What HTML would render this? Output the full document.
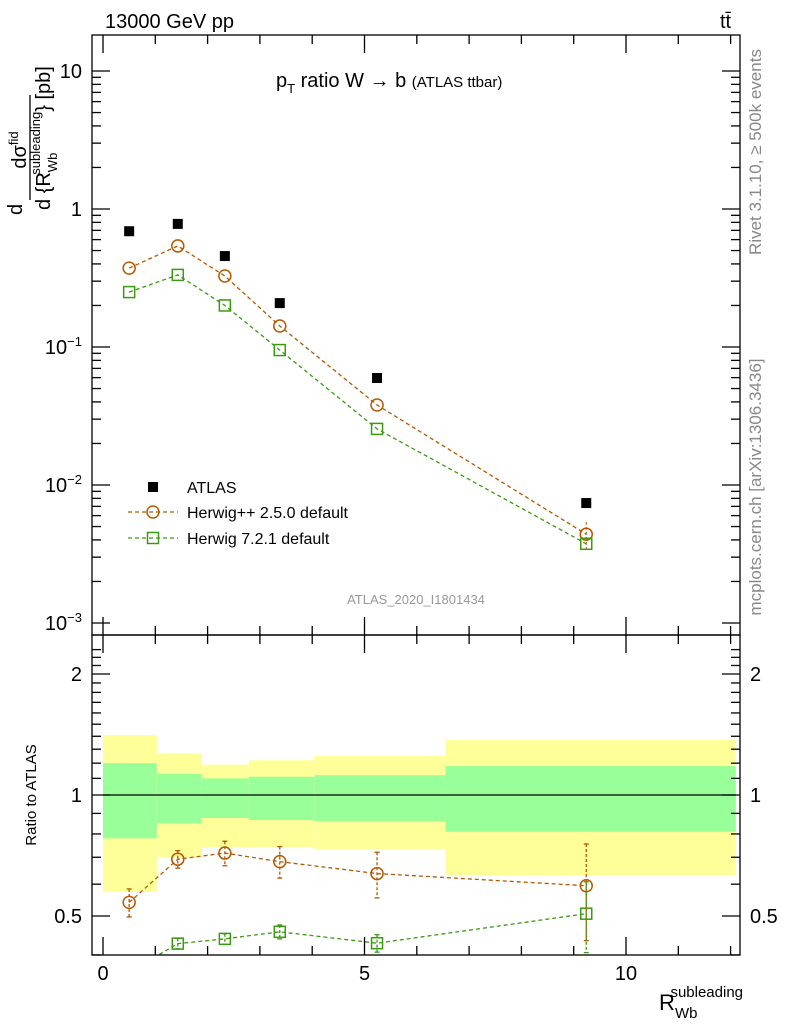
<!DOCTYPE html>
<html><head><meta charset="utf-8"><style>
body{margin:0;background:#fff;font-family:"Liberation Sans",sans-serif}
svg text{font-family:"Liberation Sans","DejaVu Sans",sans-serif}
</style></head><body>
<svg id="c" width="786" height="1024" xmlns="http://www.w3.org/2000/svg">
<defs>
<clipPath id="rc"><rect x="92" y="636" width="648" height="319"/></clipPath>
</defs>
<g id="bands" clip-path="url(#rc)"></g>
<g id="marks"></g>
<g id="axes"></g>
<rect x="92" y="35" width="648" height="600" fill="none" stroke="#000" stroke-width="1.3"/>
<rect x="92" y="635" width="648" height="320" fill="none" stroke="#000" stroke-width="1.3"/>
<text x="105" y="28" font-size="20">13000 GeV pp</text>
<text x="720" y="28" font-size="20">tt̄</text>
<text x="276" y="87" font-size="20">p<tspan font-size="13" dy="6">T</tspan><tspan dy="-6"> ratio W</tspan><tspan> → b </tspan><tspan font-size="15">(ATLAS ttbar)</tspan></text>
<text x="416" y="604" font-size="13" fill="#999" text-anchor="middle">ATLAS_2020_I1801434</text>
<text transform="translate(761,152) rotate(-90)" font-size="17" fill="#888" text-anchor="middle">Rivet 3.1.10, ≥ 500k events</text>
<text transform="translate(761,487) rotate(-90)" font-size="17" fill="#888" text-anchor="middle">mcplots.cern.ch [arXiv:1306.3436]</text>
<g>
<text transform="translate(22,215) rotate(-90)" font-size="20">d</text>
<line x1="30" y1="200" x2="30" y2="95" stroke="#000" stroke-width="1.3"/>
<text transform="translate(26,150) rotate(-90)" font-size="20" text-anchor="middle">dσ<tspan font-size="13" dy="-8">fid</tspan></text>
<text transform="translate(50,210) rotate(-90)" font-size="20">d {R<tspan font-size="13" dy="7">Wb</tspan><tspan font-size="13" dx="-22" dy="-17">subleading</tspan><tspan font-size="20" dy="10">} [pb]</tspan></text>
</g>
<text transform="translate(36,795) rotate(-90)" font-size="15" text-anchor="middle">Ratio to ATLAS</text>
<text x="743" y="1010" font-size="22" text-anchor="end">R<tspan font-size="15" dy="8">Wb</tspan><tspan font-size="15" dx="-27" dy="-21">subleading</tspan></text>
<g>
<rect x="148" y="482" width="10" height="10" fill="#000"/>
<text x="187" y="493" font-size="16">ATLAS</text>
<line x1="128" y1="512" x2="178" y2="512" stroke="#b35900" stroke-dasharray="4,3" stroke-width="1.3"/>
<circle cx="153" cy="512" r="6" fill="none" stroke="#b35900" stroke-width="1.5"/>
<text x="187" y="518" font-size="16">Herwig++ 2.5.0 default</text>
<line x1="128" y1="538" x2="178" y2="538" stroke="#3a9a10" stroke-dasharray="4,3" stroke-width="1.3"/>
<rect x="147.5" y="532.5" width="11" height="11" fill="none" stroke="#3a9a10" stroke-width="1.5"/>
<text x="187" y="544" font-size="16">Herwig 7.2.1 default</text>
</g>
</svg>
<script>
const xs=[0.5,1.43,2.33,3.38,5.24,9.24];
const atlas=[0.69,0.78,0.456,0.208,0.0596,0.0074];
const hpp=[0.373,0.54,0.327,0.142,0.038,0.0044];
const hppErr=[0.08,0.05,0.07,0.09,0.13,0.27];
const h7=[0.25,0.333,0.20,0.095,0.0255,0.00375];
const h7Err=[0.02,0.03,0.03,0.04,0.05,0.2];
const binEdges=[0,1.03,1.89,2.79,4.04,6.55,12.1];
const yelHi=[1.41,1.27,1.19,1.22,1.25,1.37];
const grnHi=[1.20,1.13,1.10,1.11,1.12,1.18];
const grnLo=[0.78,0.85,0.877,0.866,0.86,0.81];
const yelLo=[0.574,0.70,0.742,0.742,0.734,0.632];
const xTicks=[0,5,10];
const yDecades=[-3,-2,-1,0,1];
const ratioTicks=[0.5,1,2];
const NS="http://www.w3.org/2000/svg";
const X=v=>103+v*52.3;
const Y=v=>209-Math.log10(v)*138;
const R=v=>795-Math.log2(v)*121;
function el(p,t,a){const e=document.createElementNS(NS,t);for(const k in a)e.setAttribute(k,a[k]);p.appendChild(e);return e;}
const bands=document.getElementById('bands'),marks=document.getElementById('marks'),axes=document.getElementById('axes');
for(let i=0;i<xs.length;i++){
 const x0=X(binEdges[i]),x1=X(binEdges[i+1]);
 let e=el(bands,'rect',{x:x0,y:R(yelHi[i]),width:x1-x0,height:R(yelLo[i])-R(yelHi[i]),fill:'#ffff99'});
 
 e=el(bands,'rect',{x:x0,y:R(grnHi[i]),width:x1-x0,height:R(grnLo[i])-R(grnHi[i]),fill:'#99ff99'});
 
}
el(bands,'line',{x1:X(0),x2:X(12.1),y1:R(1),y2:R(1),stroke:'#000','stroke-width':1.3});
function series(vals,err,col,shape,yf,parent){
 const pts=xs.map((x,i)=>[X(x),yf(vals[i])]);
 const pl=el(parent,'polyline',{points:pts.map(p=>p.join(',')).join(' '),fill:'none',stroke:col,'stroke-dasharray':'4,3','stroke-width':1.3});
 
 pts.forEach((p,i)=>{
  if(err){const lo=yf(vals[i]*(1-err[i])),hi=yf(vals[i]*(1+err[i]));
   el(parent,'line',{x1:p[0],x2:p[0],y1:hi,y2:lo,stroke:col,'stroke-dasharray':'3,2','stroke-width':1.3});
   el(parent,'line',{x1:p[0]-2.5,x2:p[0]+2.5,y1:hi,y2:hi,stroke:col,'stroke-width':1.3});
   el(parent,'line',{x1:p[0]-2.5,x2:p[0]+2.5,y1:lo,y2:lo,stroke:col,'stroke-width':1.3});}
  let m;
  if(shape==='c')m=el(parent,'circle',{cx:p[0],cy:p[1],r:6,fill:'none',stroke:col,'stroke-width':1.5});
  else m=el(parent,'rect',{x:p[0]-5.5,y:p[1]-5.5,width:11,height:11,fill:'none',stroke:col,'stroke-width':1.5});
  
 });
}
series(hpp,null,'#b35900','c',Y,marks);
series(h7,null,'#3a9a10','s',Y,marks);
el(marks,'line',{x1:X(xs[5]),x2:X(xs[5]),y1:Y(0.0054),y2:Y(0.0033),stroke:'#b35900','stroke-dasharray':'3,2'});
atlas.forEach((v,i)=>{const r=el(marks,'rect',{x:X(xs[i])-5,y:Y(v)-5,width:10,height:10,fill:'#000'});
 });
const rg=el(marks,'g',{'clip-path':'url(#rc)'});
series(hpp.map((v,i)=>v/atlas[i]),hppErr,'#b35900','c',R,rg);
series(h7.map((v,i)=>v/atlas[i]),h7Err,'#3a9a10','s',R,rg);
const A={stroke:'#000','stroke-width':1.3};
for(let u=0;u<=12;u++){const len=u%5===0?18:9;
 [[635,-1],[955,-1],[35,1],[635,1]].forEach(([y,d])=>el(axes,'line',Object.assign({x1:X(u),x2:X(u),y1:y,y2:y+d*len},A)));}
xTicks.forEach(t=>{const e=el(axes,'text',{x:X(t),y:980,'font-size':20,'text-anchor':'middle'});e.textContent=t;
 });
yDecades.forEach(d=>{
 const y=Y(Math.pow(10,d));
 el(axes,'line',Object.assign({x1:92,x2:110,y1:y,y2:y},A));el(axes,'line',Object.assign({x1:740,x2:722,y1:y,y2:y},A));
 for(let k=2;k<10;k++){const yy=Y(k*Math.pow(10,d));if(yy<35)continue;
  el(axes,'line',Object.assign({x1:92,x2:101,y1:yy,y2:yy},A));el(axes,'line',Object.assign({x1:740,x2:731,y1:yy,y2:yy},A));}
 const t=el(axes,'text',{x:82,y:y+7,'font-size':20,'text-anchor':'end'});
 
 if(d===0)t.textContent='1';else if(d===1)t.textContent='10';
 else{t.textContent='10';const s=el(t,'tspan',{'font-size':13,dy:-8});s.textContent=String(d).replace('-','−');}
});
for(let v=0.4;v<=2.3;v=+(v+0.1).toFixed(1)){const y=R(v);if(y<636||y>955)continue;
 const maj=ratioTicks.includes(v);const l=maj?18:9;
 el(axes,'line',Object.assign({x1:92,x2:92+l,y1:y,y2:y},A));el(axes,'line',Object.assign({x1:740,x2:740-l,y1:y,y2:y},A));}
ratioTicks.forEach(v=>{[[82,'end'],[750,'start']].forEach(([x,a])=>{
 const t=el(axes,'text',{x:x,y:R(v)+7,'font-size':20,'text-anchor':a});t.textContent=v;
 });});
</script>
</body></html>
